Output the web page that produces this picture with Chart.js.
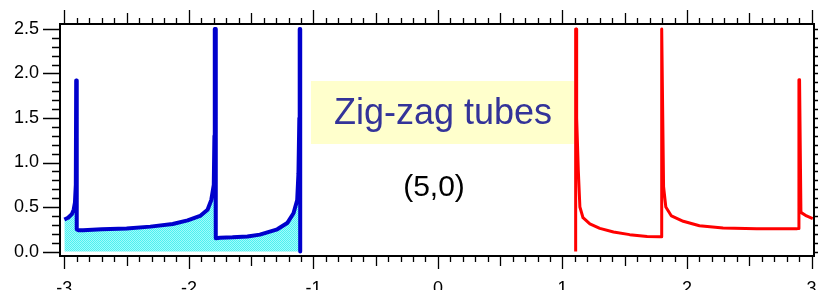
<!DOCTYPE html>
<html>
<head>
<meta charset="utf-8">
<script src="https://cdn.jsdelivr.net/npm/chart.js@4/dist/chart.umd.min.js"></script>
<style>
  html, body { margin: 0; padding: 0; background: #fff; overflow: hidden; }
  canvas { display: block; }
</style>
</head>
<body>
<canvas id="dos" width="819" height="300"></canvas>
<script>
// values
const blueX = [-3.00, -2.97, -2.94, -2.925, -2.915, -2.908, -2.905, -2.902, -2.899, -2.89, -2.85, -2.7, -2.5, -2.31, -2.13, -2.01, -1.91, -1.85, -1.82, -1.80, -1.795, -1.792, -1.788, -1.784, -1.75, -1.65, -1.53, -1.43, -1.29, -1.21, -1.16, -1.13, -1.12, -1.113, -1.110, -1.106, -1.106];
const blueY = [0.36, 0.38, 0.42, 0.47, 0.55, 0.75, 1.92, 1.92, 0.25, 0.24, 0.24, 0.25, 0.26, 0.28, 0.31, 0.35, 0.40, 0.47, 0.58, 0.75, 1.3, 2.5, 2.5, 0.15, 0.155, 0.16, 0.17, 0.19, 0.25, 0.32, 0.43, 0.58, 0.88, 1.5, 2.5, 2.5, 0.0];

const redX = [1.106, 1.106, 1.110, 1.114, 1.127, 1.14, 1.165, 1.22, 1.30, 1.41, 1.54, 1.68, 1.78, 1.792, 1.795, 1.799, 1.812, 1.83, 1.875, 1.97, 2.10, 2.29, 2.56, 2.88, 2.896, 2.899, 2.904, 2.915, 2.96, 3.01];
const redY = [0.0, 2.5, 2.5, 1.5, 0.92, 0.5, 0.38, 0.31, 0.26, 0.22, 0.19, 0.17, 0.165, 0.165, 2.5, 2.5, 0.73, 0.5, 0.40, 0.34, 0.29, 0.265, 0.255, 0.255, 0.26, 1.93, 1.93, 0.44, 0.40, 0.37];

const xTicks = [-3, -2, -1, 0, 1, 2, 3];
const yTicks = [0.0, 0.5, 1.0, 1.5, 2.0, 2.5];
const titleText = 'Zig-zag tubes';
const subText = '(5,0)';

const toPts = (xs, ys) => xs.map((v, i) => ({ x: v, y: ys[i] }));

// dotted cyan fill
const pc = document.createElement('canvas');
pc.width = 2; pc.height = 2;
const pctx = pc.getContext('2d');
pctx.fillStyle = '#9ffcfc'; pctx.fillRect(0, 0, 2, 2);
pctx.fillStyle = '#4ff0f0'; pctx.fillRect(0, 0, 1, 1); pctx.fillRect(1, 1, 1, 1);
const ctx0 = document.getElementById('dos').getContext('2d');
const cyanFill = ctx0.createPattern(pc, 'repeat');

// frame + minor ticks on all four sides
const frameTicks = {
  id: 'frameTicks',
  afterDraw(chart) {
    const { ctx, chartArea: a, scales: { x, y } } = chart;
    ctx.save();
    ctx.strokeStyle = '#000';
    ctx.lineWidth = 2;
    ctx.strokeRect(a.left, a.top, a.right - a.left, a.bottom - a.top);
    ctx.lineWidth = 1.3;
    ctx.beginPath();
    for (let i = -30; i <= 30; i++) {
      const px = Math.round(x.getPixelForValue(i / 10)) + 0.5;
      const bl = i % 10 === 0 ? 13 : (i % 5 === 0 ? 10 : 6);
      const tl = i % 10 === 0 ? 14 : (i % 5 === 0 ? 11 : 6);
      ctx.moveTo(px, a.bottom); ctx.lineTo(px, a.bottom + bl);
      ctx.moveTo(px, a.top); ctx.lineTo(px, a.top - tl);
    }
    for (let j = 0; j <= 25; j++) {
      const py = Math.round(y.getPixelForValue(j / 10)) + 0.5;
      const ll = j % 5 === 0 ? 17 : 8;
      ctx.moveTo(a.left, py); ctx.lineTo(a.left - ll, py);
      ctx.moveTo(a.right, py); ctx.lineTo(a.right + 4, py);
    }
    ctx.stroke();
    ctx.restore();
  }
};

// yellow label box in the middle
const labelBox = {
  id: 'labelBox',
  beforeDatasetsDraw(chart) {
    const { ctx } = chart;
    ctx.save();
    ctx.fillStyle = '#ffffcc';
    ctx.fillRect(311, 81, 263, 63);
    ctx.fillStyle = '#333399';
    ctx.font = '36px "Liberation Sans", Arial, sans-serif';
    ctx.textAlign = 'center';
    ctx.textBaseline = 'alphabetic';
    ctx.fillText(titleText, 443, 124);
    ctx.fillStyle = '#000';
    ctx.font = '30px "Liberation Sans", Arial, sans-serif';
    ctx.fillText(subText, 434, 196);
    ctx.restore();
  }
};

const noLine = 'rgba(0,0,0,0)';

new Chart(ctx0, {
  type: 'line',
  data: {
    datasets: [
      {
        data: toPts(blueX, blueY),
        borderColor: '#0000cc',
        borderWidth: 4,
        backgroundColor: cyanFill,
        fill: 'origin',
        pointRadius: 0,
        tension: 0,
        borderJoinStyle: 'round'
      },
      {
        data: toPts(redX, redY),
        borderColor: '#ff0000',
        borderWidth: 3,
        fill: false,
        pointRadius: 0,
        tension: 0,
        borderJoinStyle: 'round'
      }
    ]
  },
  options: {
    responsive: false,
    animation: false,
    layout: { padding: { top: 24, right: 5, left: 0, bottom: 0 } },
    plugins: { legend: { display: false }, tooltip: { enabled: false } },
    scales: {
      x: {
        type: 'linear',
        min: -3.035,
        max: 3.02,
        afterFit: s => { s.height = 44; },
        afterBuildTicks: s => { s.ticks = xTicks.map(v => ({ value: v })); },
        grid: { drawOnChartArea: false, drawTicks: true, tickLength: 21, color: noLine, tickColor: noLine },
        border: { display: false },
        ticks: {
          padding: 1,
          color: '#000',
          font: { family: 'Liberation Sans', size: 18 },
          callback: v => String(v)
        }
      },
      y: {
        min: -0.05,
        max: 2.556,
        afterFit: s => { s.width = 60; },
        afterBuildTicks: s => { s.ticks = yTicks.map(v => ({ value: v })); },
        grid: { drawOnChartArea: false, drawTicks: true, tickLength: 19, color: noLine, tickColor: noLine },
        border: { display: false },
        ticks: {
          padding: 2,
          color: '#000',
          font: { family: 'Liberation Sans', size: 18 },
          callback: v => v.toFixed(1)
        }
      }
    }
  },
  plugins: [labelBox, frameTicks]
});
</script>
</body>
</html>
